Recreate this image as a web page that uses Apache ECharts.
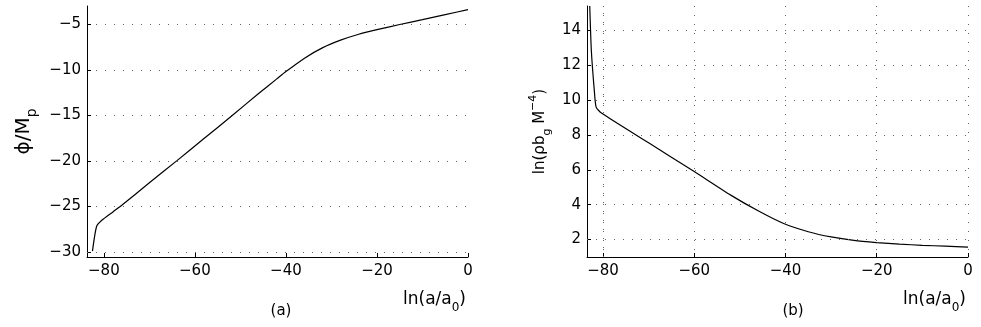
<!DOCTYPE html>
<html>
<head>
<meta charset="utf-8">
<script src="https://cdn.jsdelivr.net/npm/echarts@6/dist/echarts.min.js"></script>
<style>
  html, body { margin: 0; padding: 0; background: #fff; }
  #chart { width: 981px; height: 327px; }
</style>
</head>
<body>
<div id="chart"></div>
<script>
// panel (a): phi / M_p against ln(a/a0)
const xA = [-82.5, -81.6, -80.5, -78, -76, -70, -64, -58, -52, -46, -42, -40, -36, -32, -28, -24, -20, -15, -10, -5, 0];
const yA = [-29.9, -27.2, -26.55, -25.6, -24.85, -22.4, -20.0, -17.55, -15.1, -12.6, -11.0, -10.2, -8.75, -7.6, -6.75, -6.1, -5.6, -5.03, -4.5, -3.95, -3.4];

// panel (b): ln(rho b_g M^-4) against ln(a/a0)
const xB = [-82.9, -82.55, -81.9, -81.5, -80.35, -70, -60, -52, -46, -40.4, -35, -30, -25, -20, -15, -10, -5, 0];
const yB = [15.4, 12.85, 10.56, 9.6, 9.26, 7.55, 5.9, 4.55, 3.65, 2.92, 2.45, 2.15, 1.95, 1.83, 1.74, 1.67, 1.62, 1.57];

const xTicks = [-80, -60, -40, -20, 0];
const yTicksA = [-30, -25, -20, -15, -10, -5];
const yTicksB = [2, 4, 6, 8, 10, 12, 14];

const FONT = 'DejaVu Sans';
const minus = v => String(v).replace('-', '\u2212');

function richOf(size, subSize) {
  return {
    t: { fontFamily: FONT, fontSize: size, color: '#000', lineHeight: size + 10 },
    sub: { fontFamily: FONT, fontSize: subSize, color: '#000', lineHeight: subSize, verticalAlign: 'bottom' },
    sup: { fontFamily: FONT, fontSize: subSize, color: '#000', lineHeight: subSize, verticalAlign: 'top' }
  };
}

const dotted = { color: '#666', width: 1, type: [1, 8] };

function xAxisOf(idx, min, split) {
  return {
    type: 'value', gridIndex: idx, min: min, max: 0, splitNumber: 5,
    axisLine: { show: true, onZero: false, lineStyle: { color: '#000', width: 1 } },
    axisTick: { show: true, inside: true, length: 4, customValues: xTicks, lineStyle: { color: '#000' } },
    axisLabel: { customValues: xTicks, formatter: minus, color: '#000', fontFamily: FONT, fontSize: 15, margin: 7 },
    splitLine: { show: split, lineStyle: dotted }
  };
}

function yAxisOf(idx, min, max, split, ticks, name, gap, rich) {
  return {
    type: 'value', gridIndex: idx, min: min, max: max, splitNumber: split,
    name: name, nameLocation: 'middle', nameRotate: 90, nameGap: gap,
    nameTextStyle: { rich: rich },
    axisLine: { show: true, onZero: false, lineStyle: { color: '#000', width: 1 } },
    axisTick: { show: true, inside: true, length: 4, customValues: ticks, lineStyle: { color: '#000' } },
    axisLabel: { customValues: ticks, formatter: minus, color: '#000', fontFamily: FONT, fontSize: 15, margin: 6 },
    splitLine: { show: true, lineStyle: dotted }
  };
}

// the lowest grid line of each axis is not drawn by splitLine, so add it here
const firstLines = data => ({
  silent: true, symbol: 'none', label: { show: false },
  lineStyle: dotted, emphasis: { disabled: true }, data: data
});

const chart = echarts.init(document.getElementById('chart'));
chart.setOption({
  animation: false,
  backgroundColor: '#fff',
  grid: [
    { left: 87, right: 513, top: 6, bottom: 70 },
    { left: 587, right: 13, top: 6, bottom: 70 }
  ],
  xAxis: [xAxisOf(0, -83.7, false), xAxisOf(1, -83.5, true)],
  yAxis: [
    yAxisOf(0, -30.55, -3, 5, yTicksA, '{t|\u03d5/M}{sub|p}', 48, richOf(20, 14)),
    yAxisOf(1, 1.0, 15.4, 7, yTicksB, '{t|ln(\u03c1b}{sub|g}{t| M}{sup|\u22124}{t|)}', 34, richOf(15, 11))
  ],
  graphic: [
    { type: 'text', x: 466, y: 300, style: { text: '{t|ln(a/a}{sub|0}{t|)}', rich: richOf(17, 12), align: 'right', verticalAlign: 'middle' } },
    { type: 'text', x: 966, y: 300, style: { text: '{t|ln(a/a}{sub|0}{t|)}', rich: richOf(17, 12), align: 'right', verticalAlign: 'middle' } },
    { type: 'text', x: 281, y: 311, style: { text: '(a)', fill: '#000', font: '15px "DejaVu Sans"', align: 'center', verticalAlign: 'middle' } },
    { type: 'text', x: 793, y: 311, style: { text: '(b)', fill: '#000', font: '15px "DejaVu Sans"', align: 'center', verticalAlign: 'middle' } }
  ],
  series: [
    {
      type: 'line', xAxisIndex: 0, yAxisIndex: 0, showSymbol: false, smooth: 0.2,
      lineStyle: { color: '#000', width: 1.2 },
      data: xA.map((x, i) => [x, yA[i]]),
      markLine: firstLines([{ yAxis: yTicksA[0] }])
    },
    {
      type: 'line', xAxisIndex: 1, yAxisIndex: 1, showSymbol: false, smooth: 0.2,
      lineStyle: { color: '#000', width: 1.2 },
      data: xB.map((x, i) => [x, yB[i]]),
      markLine: firstLines([{ yAxis: yTicksB[0] }, { xAxis: xTicks[0] }])
    }
  ]
});
</script>
</body>
</html>
